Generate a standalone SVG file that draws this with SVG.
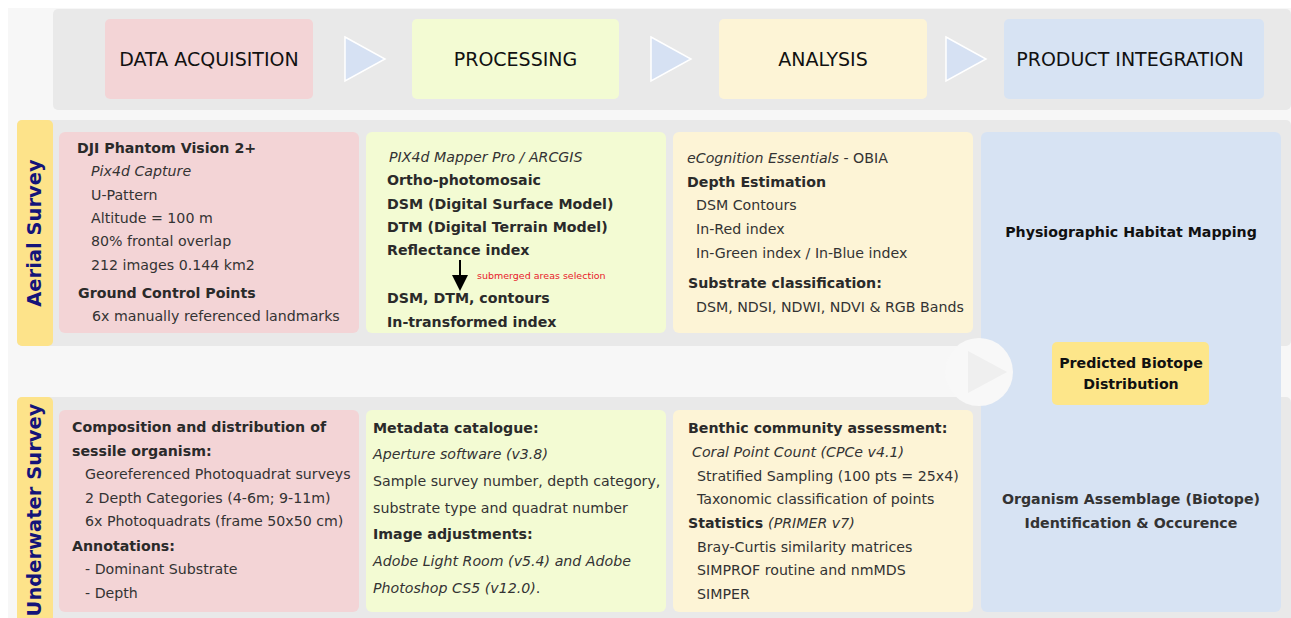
<svg xmlns="http://www.w3.org/2000/svg" width="1291" height="618" viewBox="0 0 1291 618">
  <defs>
    <style>
      text { font-family: "DejaVu Sans", Verdana, sans-serif; fill: #333; }
      .hdr { font-size: 19px; fill: #111; text-anchor: middle; }
      .t { font-size: 14.2px; }
      .b { font-size: 14.2px; font-weight: bold; fill: #2a2a2a; }
      .i { font-size: 14.2px; font-style: italic; }
      .lane { font-size: 19.5px; font-weight: bold; fill: #14147a; text-anchor: middle; }
      .pi { font-size: 14.2px; font-weight: bold; text-anchor: middle; }
      .pink { fill: #f3d4d6; }
      .green { fill: #f3fbd3; }
      .yellow { fill: #fdf4d6; }
      .blue { fill: #d7e3f3; }
      .band { fill: #e9e9e9; }
      .tab { fill: #fde38a; }
      .chev { fill: #d6e1f3; stroke: #ffffff; stroke-width: 1.5; }
    </style>
  </defs>

  <!-- page -->
  <rect x="0" y="0" width="1291" height="618" fill="#ffffff"/>
  <rect x="8" y="8" width="1283" height="610" fill="#f7f7f7"/>

  <!-- stage header -->
  <g id="header">
    <rect class="band" x="53" y="9" width="1238" height="101" rx="5"/>
    <g id="stage-acquisition">
      <rect class="pink" x="105" y="19" width="208" height="80" rx="5"/>
      <text class="hdr" x="209" y="66">DATA ACQUISITION</text>
    </g>
    <g id="stage-processing">
      <rect class="green" x="412" y="19" width="207" height="80" rx="5"/>
      <text class="hdr" x="515.5" y="66">PROCESSING</text>
    </g>
    <g id="stage-analysis">
      <rect class="yellow" x="719" y="19" width="208" height="80" rx="5"/>
      <text class="hdr" x="823" y="66">ANALYSIS</text>
    </g>
    <g id="stage-integration">
      <rect class="blue" x="1004" y="19" width="260" height="80" rx="5"/>
      <text class="hdr" x="1130" y="66">PRODUCT INTEGRATION</text>
    </g>
  </g>

  <!-- aerial survey lane -->
  <g id="lane-aerial">
    <rect class="band" x="17" y="120" width="1274" height="226" rx="5"/>
    <rect class="tab" x="17" y="120" width="36" height="226" rx="5"/>
    <rect class="band" x="53" y="120" width="10" height="226"/>
    <text class="lane" transform="translate(41,233) rotate(-90)">Aerial Survey</text>
  </g>

  <!-- underwater survey lane -->
  <g id="lane-underwater">
    <rect class="band" x="17" y="397" width="1274" height="230" rx="5"/>
    <rect class="tab" x="17" y="397" width="36" height="230" rx="5"/>
    <rect class="band" x="53" y="397" width="10" height="230"/>
    <text class="lane" transform="translate(41,510) rotate(-90)">Underwater Survey</text>
  </g>

  <!-- aerial: acquisition -->
  <g id="aerial-acquisition">
    <rect class="pink" x="59" y="132" width="300" height="201" rx="6"/>
    <text class="b" x="77" y="153">DJI Phantom Vision 2+</text>
    <text class="i" x="91" y="176">Pix4d Capture</text>
    <text class="t" x="91" y="200">U-Pattern</text>
    <text class="t" x="91" y="223">Altitude = 100 m</text>
    <text class="t" x="91" y="246">80% frontal overlap</text>
    <text class="t" x="91" y="270">212 images 0.144 km2</text>
    <text class="b" x="78" y="298">Ground Control Points</text>
    <text class="t" x="92" y="321">6x manually referenced landmarks</text>
  </g>

  <!-- aerial: processing -->
  <g id="aerial-processing">
    <rect class="green" x="366" y="132" width="300" height="201" rx="6"/>
    <text class="i" x="389" y="162">PIX4d Mapper Pro / ARCGIS</text>
    <text class="b" x="387" y="185">Ortho-photomosaic</text>
    <text class="b" x="387" y="209">DSM (Digital Surface Model)</text>
    <text class="b" x="387" y="232">DTM (Digital Terrain Model)</text>
    <text class="b" x="387" y="255">Reflectance index</text>
    <text x="477" y="279" font-size="9.5" style="fill:#e8202a">submerged areas selection</text>
    <text class="b" x="387" y="303">DSM, DTM, contours</text>
    <text class="b" x="387" y="327">In-transformed index</text>
  </g>

  <!-- aerial: analysis -->
  <g id="aerial-analysis">
    <rect class="yellow" x="673" y="132" width="300" height="201" rx="6"/>
    <text class="t" x="687" y="163"><tspan font-style="italic">eCognition Essentials</tspan> - OBIA</text>
    <text class="b" x="687" y="187">Depth Estimation</text>
    <text class="t" x="696" y="210">DSM Contours</text>
    <text class="t" x="696" y="234">In-Red index</text>
    <text class="t" x="696" y="258">In-Green index / In-Blue index</text>
    <text class="b" x="688" y="288">Substrate classification:</text>
    <text class="t" x="696" y="312">DSM, NDSI, NDWI, NDVI &amp; RGB Bands</text>
  </g>

  <!-- product integration spans both lanes -->
  <g id="integration">
    <rect class="blue" x="981" y="132" width="300" height="480" rx="6"/>
    <text class="pi" x="1131" y="237" style="fill:#111">Physiographic Habitat Mapping</text>
    <text class="pi" x="1131" y="504">Organism Assemblage (Biotope)</text>
    <text class="pi" x="1131" y="528">Identification &amp; Occurence</text>
  </g>

  <!-- turn marker between the lanes -->
  <g id="lane-divider">
    <circle cx="979" cy="372" r="34" fill="#f8f8f8"/>
    <polygon points="968,351 1007,372 968,393" fill="#efefef"/>
  </g>

  <g id="predicted-biotope">
    <rect x="1052" y="342" width="157" height="63" rx="5" fill="#fde68a"/>
    <text class="pi" x="1131" y="368" style="fill:#111">Predicted Biotope</text>
    <text class="pi" x="1131" y="389" style="fill:#111">Distribution</text>
  </g>

  <!-- underwater: acquisition -->
  <g id="underwater-acquisition">
    <rect class="pink" x="59" y="410" width="300" height="202" rx="6"/>
    <text class="b" x="72" y="432">Composition and distribution of</text>
    <text class="b" x="72" y="456">sessile organism:</text>
    <text class="t" x="85" y="479">Georeferenced Photoquadrat surveys</text>
    <text class="t" x="85" y="503">2 Depth Categories (4-6m; 9-11m)</text>
    <text class="t" x="85" y="526">6x Photoquadrats (frame 50x50 cm)</text>
    <text class="b" x="72" y="551">Annotations:</text>
    <text class="t" x="85" y="574">- Dominant Substrate</text>
    <text class="t" x="85" y="598">- Depth</text>
  </g>

  <!-- underwater: processing -->
  <g id="underwater-processing">
    <rect class="green" x="366" y="410" width="300" height="202" rx="6"/>
    <text class="b" x="373" y="433">Metadata catalogue:</text>
    <text class="i" x="373" y="459">Aperture software (v3.8)</text>
    <text class="t" x="373" y="486">Sample survey number, depth category,</text>
    <text class="t" x="373" y="513">substrate type and quadrat number</text>
    <text class="b" x="373" y="539">Image adjustments:</text>
    <text class="i" x="373" y="566">Adobe Light Room (v5.4) and Adobe</text>
    <text class="i" x="373" y="593">Photoshop CS5 (v12.0)<tspan font-style="normal">.</tspan></text>
  </g>

  <!-- underwater: analysis -->
  <g id="underwater-analysis">
    <rect class="yellow" x="673" y="410" width="300" height="202" rx="6"/>
    <text class="b" x="688" y="433">Benthic community assessment:</text>
    <text class="i" x="692" y="457">Coral Point Count (CPCe v4.1)</text>
    <text class="t" x="697" y="481">Stratified Sampling (100 pts = 25x4)</text>
    <text class="t" x="697" y="504">Taxonomic classification of points</text>
    <text class="b" x="688" y="528">Statistics <tspan font-weight="normal" font-style="italic" style="fill:#333">(PRIMER v7)</tspan></text>
    <text class="t" x="697" y="552">Bray-Curtis similarity matrices</text>
    <text class="t" x="697" y="575">SIMPROF routine and nmMDS</text>
    <text class="t" x="697" y="599">SIMPER</text>
  </g>

  <!-- flow chevrons between stages and the selection arrow -->
  <g id="connectors">
    <polygon class="chev" points="345,37 385,59 345,81"/>
    <polygon class="chev" points="651,37 691,59 651,81"/>
    <polygon class="chev" points="946,37 986,59 946,81"/>
    <line x1="460" y1="260" x2="460" y2="277" stroke="#000" stroke-width="2"/>
    <polygon points="452,275 468,275 460,291" fill="#000"/>
  </g>
</svg>
